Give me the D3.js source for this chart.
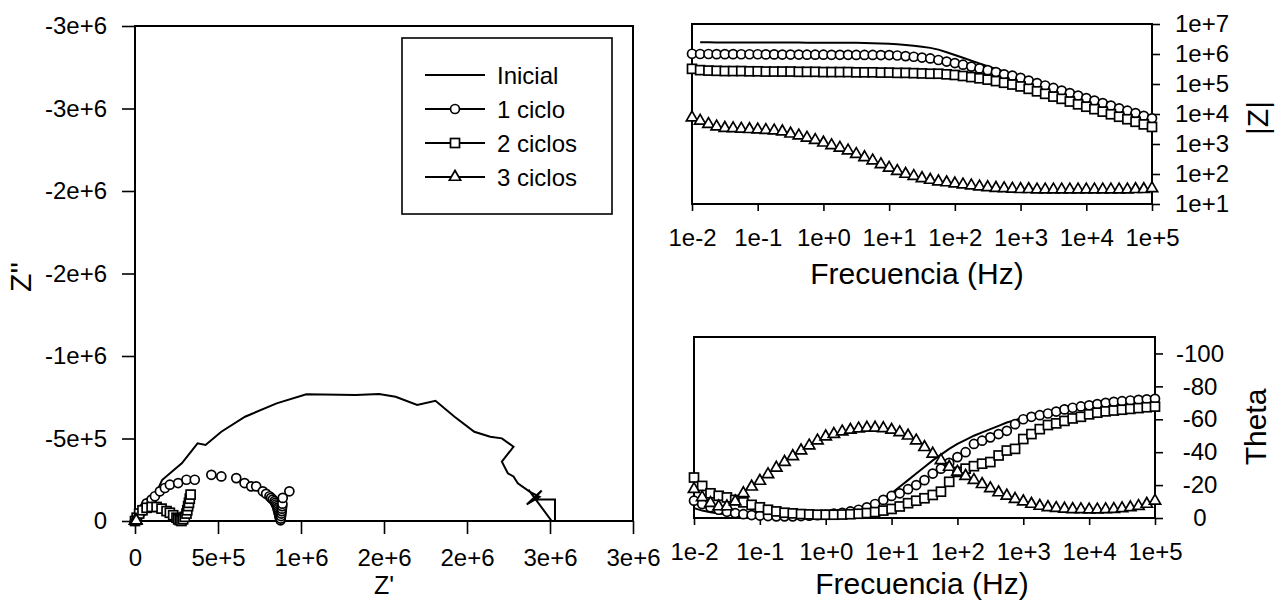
<!DOCTYPE html>
<html lang="es">
<head>
<meta charset="UTF-8">
<title>Impedancia - ciclos</title>
<script src="https://cdn.jsdelivr.net/npm/d3@7/dist/d3.min.js"></script>
<style>
  body { margin: 0; background: #fff; }
  svg { display: block; font-family: "Liberation Sans", Arial, sans-serif; }
  .frame { fill: none; stroke: #000; stroke-width: 2px; }
  .tick line { stroke: #000; stroke-width: 1.6px; }
  .tick text { font-size: 24px; fill: #000; font-family: "Liberation Sans", Arial, sans-serif; }
  .domain { display: none; }
  .mk { fill: #fff; stroke: #000; stroke-width: 1.7px; }
  .ln { fill: none; stroke: #000; stroke-width: 2px; }
  .title { font-size: 30px; fill: #000; }
  .leg text { font-size: 24px; fill: #000; }
</style>
</head>
<body>
<svg width="1278" height="603"></svg>
<script>
// series names (legend)
const seriesNames = ["Inicial", "1 ciclo", "2 ciclos", "3 ciclos"];

// Nyquist: Z' and Z'' (ohm)
const nyqInicialRe = [0, 0.044e6, 0.127e6, 0.163e6, 0.234e6, 0.282e6, 0.377e6, 0.425e6, 0.52e6, 0.663e6, 0.853e6, 1.032e6, 1.33e6, 1.47e6, 1.57e6, 1.70e6, 1.81e6, 1.925e6, 2.044e6, 2.14e6, 2.21e6, 2.28e6, 2.21e6, 2.246e6, 2.28e6, 2.306e6, 2.377e6, 2.437e6, 2.36e6, 2.45e6, 2.40e6, 2.53e6, 2.53e6, 2.51e6, 2.37e6];
const nyqInicialIm = [0, -0.107e6, -0.168e6, -0.248e6, -0.309e6, -0.35e6, -0.471e6, -0.461e6, -0.541e6, -0.632e6, -0.713e6, -0.768e6, -0.764e6, -0.77e6, -0.753e6, -0.703e6, -0.729e6, -0.632e6, -0.541e6, -0.511e6, -0.501e6, -0.45e6, -0.36e6, -0.289e6, -0.27e6, -0.228e6, -0.178e6, -0.147e6, -0.10e6, -0.185e6, -0.13e6, -0.13e6, 0, 0, -0.19e6];

const nyq1Re = [0, 0.01e6, 0.02e6, 0.03e6, 0.04e6, 0.055e6, 0.07e6, 0.10e6, 0.12e6, 0.15e6, 0.18e6, 0.21e6, 0.26e6, 0.31e6, 0.36e6, 0.46e6, 0.52e6, 0.61e6, 0.66e6, 0.70e6, 0.73e6, 0.77e6, 0.79e6, 0.81e6, 0.82e6, 0.83e6, 0.84e6, 0.845e6, 0.85e6, 0.855e6, 0.858e6, 0.86e6, 0.863e6, 0.865e6, 0.868e6, 0.87e6, 0.872e6, 0.875e6, 0.877e6, 0.878e6, 0.88e6, 0.882e6, 0.884e6, 0.885e6, 0.887e6, 0.888e6, 0.89e6, 0.93e6];
const nyq1Im = [0, -0.015e6, -0.03e6, -0.045e6, -0.056e6, -0.08e6, -0.107e6, -0.13e6, -0.15e6, -0.18e6, -0.20e6, -0.22e6, -0.23e6, -0.25e6, -0.25e6, -0.28e6, -0.27e6, -0.26e6, -0.23e6, -0.21e6, -0.21e6, -0.18e6, -0.165e6, -0.15e6, -0.14e6, -0.13e6, -0.12e6, -0.11e6, -0.10e6, -0.09e6, -0.08e6, -0.07e6, -0.06e6, -0.05e6, -0.04e6, -0.03e6, -0.02e6, -0.01e6, -0.004e6, -0.015e6, -0.03e6, -0.045e6, -0.06e6, -0.075e6, -0.09e6, -0.105e6, -0.14e6, -0.18e6];

const nyq2Re = [0, 0.01e6, 0.025e6, 0.045e6, 0.07e6, 0.10e6, 0.13e6, 0.16e6, 0.19e6, 0.21e6, 0.23e6, 0.25e6, 0.26e6, 0.27e6, 0.28e6, 0.29e6, 0.30e6, 0.31e6, 0.315e6, 0.32e6, 0.325e6, 0.33e6, 0.335e6];
const nyq2Im = [0, -0.02e6, -0.045e6, -0.065e6, -0.08e6, -0.085e6, -0.085e6, -0.075e6, -0.06e6, -0.05e6, -0.035e6, -0.02e6, -0.01e6, -0.005e6, 0, -0.01e6, -0.025e6, -0.045e6, -0.065e6, -0.09e6, -0.11e6, -0.135e6, -0.16e6];

const nyq3Re = [0, 0.003e6, 0.005e6, 0.007e6, 0.0076e6];
const nyq3Im = [0, -0.002e6, -0.003e6, -0.004e6, -0.002e6];

// Bode: frequency (Hz)
const freq = [0.01, 0.0133, 0.0178, 0.0237, 0.0316, 0.0422, 0.0562, 0.075,
  0.1, 0.133, 0.178, 0.237, 0.316, 0.422, 0.562, 0.75,
  1, 1.33, 1.78, 2.37, 3.16, 4.22, 5.62, 7.5,
  10, 13.3, 17.8, 23.7, 31.6, 42.2, 56.2, 75,
  100, 133, 178, 237, 316, 422, 562, 750,
  1000, 1330, 1780, 2370, 3160, 4220, 5620, 7500,
  10000, 13300, 17800, 23700, 31600, 42200, 56200, 75000, 100000];

// |Z| (ohm)
const zInicial = [null, 2.45e6, 2.45e6, 2.44e6, 2.44e6, 2.43e6, 2.43e6, 2.42e6, 2.42e6, 2.41e6, 2.41e6, 2.40e6, 2.40e6, 2.40e6, 2.39e6, 2.39e6, 2.38e6, 2.38e6, 2.37e6, 2.36e6, 2.35e6,
  2.33e6, 2.30e6, 2.26e6, 2.20e6, 2.10e6, 2.00e6, 1.90e6, 1.75e6, 1.60e6, 1.40e6, 1.15e6, 9.3e5, 7.5e5, 6.0e5, 4.8e5, 3.9e5, 3.2e5, 2.6e5, 2.1e5, 1.7e5,
  1.4e5, 1.15e5, 9.4e4, 7.7e4, 6.3e4, 5.2e4, 4.3e4, 3.5e4, 2.9e4, 2.4e4, 1.95e4, 1.6e4, 1.3e4, 1.08e4, 8.9e3, 7.3e3];
const z1 = [1.02e6, 1.0e6, 1.0e6, 0.99e6, 0.99e6, 0.99e6, 0.98e6, 0.98e6, 0.98e6,
  9.7e5, 9.7e5, 9.6e5, 9.6e5, 9.6e5, 9.5e5, 9.5e5, 9.5e5, 9.4e5, 9.4e5, 9.4e5, 9.3e5, 9.3e5, 9.3e5, 9.2e5, 9.2e5,
  8.9e5, 8.5e5, 8.1e5, 7.6e5, 7.1e5, 6.3e5, 5.6e5, 5.0e5, 4.4e5, 3.8e5, 3.3e5, 2.9e5, 2.5e5, 2.1e5, 1.9e5, 1.6e5,
  1.3e5, 1.07e5, 8.9e4, 7.4e4, 6.0e4, 5.0e4, 4.1e4, 3.4e4, 2.8e4, 2.3e4, 1.9e4, 1.55e4, 1.29e4, 1.07e4, 8.7e3, 7.2e3];
const z2 = [3.2e5, 2.9e5, 2.8e5,
  2.75e5, 2.7e5, 2.7e5, 2.7e5, 2.65e5, 2.65e5, 2.6e5, 2.6e5, 2.6e5, 2.6e5, 2.55e5, 2.55e5, 2.55e5, 2.5e5, 2.5e5, 2.5e5, 2.5e5, 2.45e5, 2.45e5, 2.45e5, 2.4e5, 2.4e5,
  2.35e5, 2.35e5, 2.3e5, 2.25e5, 2.2e5, 2.2e5, 2.1e5, 2.0e5, 1.85e5, 1.7e5, 1.55e5, 1.4e5, 1.25e5, 1.1e5, 9.6e4, 8.3e4,
  6.9e4, 5.7e4, 4.7e4, 3.8e4, 3.2e4, 2.6e4, 2.1e4, 1.75e4, 1.45e4, 1.2e4, 9.8e3, 8.1e3, 6.7e3, 5.5e3, 4.5e3, 3.7e3];
const z3 = [7.6e3, 5.9e3, 4.6e3, 3.8e3, 3.4e3, 3.3e3, 3.2e3, 3.1e3, 3.0e3, 2.9e3, 2.8e3, 2.6e3,
  2.2e3, 1.9e3, 1.6e3, 1.35e3, 1.1e3, 900, 740, 600, 460, 360, 280, 210, 160,
  125, 100, 85, 72, 63, 56, 52, 48, 44, 41, 38, 36, 34, 33, 32, 31,
  31, 30, 30, 30, 30, 30, 30, 30, 30, 30, 30, 30, 30, 31, 31, 33];

// Theta (deg)
const thInicial = [-6, -4.5, -3.5, -2.8, -2.3, -2.0, -1.8, -1.6, -1.5, -1.5,
  -1.5, -1.5, -1.5, -1.6, -1.7, -1.9, -2.2, -2.6, -3.1, -3.8,
  -4.6, -5.8, -8, -11, -15, -19, -23, -27, -31, -35,
  -38.5, -42, -45, -47.5, -50, -52, -54, -56, -58, -59.5,
  -61, -62.5, -63.7, -64.8, -65.8, -66.8, -67.7, -68.5, -69.3, -70,
  -70.7, -71.3, -71.8, -72.2, -72.6, -73, -73.3];
const th1 = [-10.5, -8.5, -6.5, -5, -3.8, -3, -2.3, -1.8, -1.5, -1.2,
  -1.0, -1.0, -1.0, -1.2, -1.4, -1.7, -2.1, -2.6, -3.2, -4.0,
  -5, -6.5, -8.5, -11, -13.4, -15, -17.5, -20, -23, -27,
  -30, -33.5, -37, -40, -45, -47, -49, -51, -53, -57,
  -60, -61.5, -62.5, -63.5, -64.7, -66, -67, -67.8, -68.5, -69.2,
  -70, -70.6, -71, -71.4, -71.8, -72.1, -72.4];
const th2 = [-24.6, -19.5, -15, -13.5, -12.5, -11, -9.5, -8, -6.5, -5,
  -4, -3.2, -2.8, -2.4, -2.2, -2.0, -2.0, -2.0, -2.1, -2.3,
  -2.6, -3.0, -3.6, -4.5, -5.5, -7, -9, -10.5, -12, -14,
  -16, -22, -28, -30, -31.5, -33, -34, -38, -41, -42,
  -48, -51, -54, -56.5, -57.5, -59, -60.5, -61.5, -63, -64,
  -64.8, -65.3, -65.8, -66.3, -66.8, -67.3, -67.7];
const th3 = [-17.5, -12.5, -9, -7, -7, -10, -15, -19, -22.5, -26.5,
  -30.5, -34, -37.5, -41, -44, -47, -49.5, -51, -52.5, -53.5,
  -54.3, -54.8, -54.8, -54.5, -53.5, -52, -50, -47, -43, -39,
  -35, -31, -28, -25.5, -23, -20.5, -18, -15.5, -13.5, -11.5,
  -10, -8.5, -7.3, -6.5, -6, -5.6, -5.3, -5.2, -5.1, -5.1,
  -5.2, -5.4, -5.8, -6.4, -7.2, -8.5, -10.4];

// ticks
const nyqTicks = [0, 5e5, 1e6, 1.5e6, 2e6, 2.5e6, 3e6];
const nyqYTicks = [0, -5e5, -1e6, -1.5e6, -2e6, -2.5e6, -3e6];
const freqTicks = [1e-2, 1e-1, 1, 10, 100, 1e3, 1e4, 1e5];
const zTicks = [10, 100, 1e3, 1e4, 1e5, 1e6, 1e7];
const thTicks = [0, -20, -40, -60, -80, -100];

const fmtE = v => v === 0 ? "0" : v.toExponential(0);

const svg = d3.select("svg");

function marker(g, type, x, y) {
  if (type === "circle") {
    g.append("circle").attr("class", "mk").attr("cx", x).attr("cy", y).attr("r", 4.5);
  } else if (type === "square") {
    g.append("rect").attr("class", "mk").attr("x", x - 4.5).attr("y", y - 4.5).attr("width", 9).attr("height", 9);
  } else if (type === "triangle") {
    g.append("path").attr("class", "mk")
      .attr("d", d3.symbol(d3.symbolTriangle, 55)())
      .attr("transform", `translate(${x},${y})`);
  }
}
const types = [null, "circle", "square", "triangle"];

function styleAxis(g) {
  g.attr("font-size", null).attr("font-family", null);
  g.selectAll(".tick text").attr("fill", "#000");
}

// ---------- Nyquist ----------
const nx = d3.scaleLinear().domain([0, 3e6]).range([135, 633]);
const ny = d3.scaleLinear().domain([0, -3e6]).range([521, 26]);

svg.append("g").attr("transform", "translate(0,521)")
  .call(d3.axisBottom(nx).tickValues(nyqTicks).tickFormat(fmtE).tickSize(13).tickPadding(15))
  .call(styleAxis);
svg.append("g").attr("transform", "translate(135,0)")
  .call(d3.axisLeft(ny).tickValues(nyqYTicks).tickFormat(fmtE).tickSize(13).tickPadding(15))
  .call(styleAxis);
svg.append("rect").attr("class", "frame")
  .attr("x", nx(0)).attr("y", ny(-3e6))
  .attr("width", nx(3e6) - nx(0)).attr("height", ny(0) - ny(-3e6));

const nyqRe = [nyqInicialRe, nyq1Re, nyq2Re, nyq3Re];
const nyqIm = [nyqInicialIm, nyq1Im, nyq2Im, nyq3Im];
const gN = svg.append("g");
gN.append("path").attr("class", "ln")
  .attr("d", d3.line().x((d, i) => nx(d)).y((d, i) => ny(nyqInicialIm[i]))(nyqInicialRe));
for (let s = 1; s < 4; s++) {
  nyqRe[s].forEach((re, i) => marker(gN, types[s], nx(re), ny(nyqIm[s][i])));
}

svg.append("text").attr("class", "title").attr("text-anchor", "middle")
  .style("font-size", "25px")
  .attr("x", 384).attr("y", 594).text("Z'");
svg.append("text").attr("class", "title").attr("text-anchor", "middle")
  .attr("transform", "translate(31,277) rotate(-90)").text("Z''");

// legend
const leg = svg.append("g").attr("class", "leg");
leg.append("rect").attr("x", 402).attr("y", 38).attr("width", 210).attr("height", 176)
  .attr("fill", "#fff").attr("stroke", "#000").attr("stroke-width", 1.6);
seriesNames.forEach((name, i) => {
  const y = 75 + i * 34;
  leg.append("line").attr("x1", 425).attr("x2", 485).attr("y1", y).attr("y2", y)
    .attr("stroke", "#000").attr("stroke-width", 2);
  if (types[i]) marker(leg, types[i], 455, y);
  leg.append("text").attr("x", 497).attr("y", y + 9).text(name);
});

// ---------- |Z| ----------
const bx = d3.scaleLog().domain([1e-2, 1e5]).range([692, 1152]);
const by = d3.scaleLog().domain([10, 1e7]).range([204, 24]);

svg.append("g").attr("transform", "translate(0,204)")
  .call(d3.axisBottom(bx).tickValues(freqTicks).tickFormat(fmtE).tickSize(7).tickPadding(18))
  .call(styleAxis);
svg.append("g").attr("transform", "translate(1152,0)")
  .call(d3.axisRight(by).tickValues(zTicks).tickFormat(fmtE).tickSize(8).tickPadding(15))
  .call(styleAxis);
svg.append("rect").attr("class", "frame")
  .attr("x", bx(1e-2)).attr("y", by(1e7))
  .attr("width", bx(1e5) - bx(1e-2)).attr("height", by(10) - by(1e7));

const zSeries = [zInicial, z1, z2, z3];
const gZ = svg.append("g");
gZ.append("path").attr("class", "ln")
  .attr("d", d3.line().defined(d => d != null).x((d, i) => bx(freq[i])).y(d => by(d))(zInicial));
for (let s = 1; s < 4; s++) {
  zSeries[s].forEach((v, i) => marker(gZ, types[s], bx(freq[i]), by(v)));
}
svg.append("text").attr("class", "title").attr("text-anchor", "middle")
  .attr("x", 917).attr("y", 284).text("Frecuencia (Hz)");
svg.append("text").attr("class", "title").attr("text-anchor", "middle")
  .attr("transform", "translate(1268,118) rotate(-90)").text("|Z|");

// ---------- Theta ----------
const tx = d3.scaleLog().domain([1e-2, 1e5]).range([694, 1155]);
const ty = d3.scaleLinear().domain([0, -110]).range([518, 337]);

svg.append("g").attr("transform", "translate(0,518)")
  .call(d3.axisBottom(tx).tickValues(freqTicks).tickFormat(fmtE).tickSize(7).tickPadding(18))
  .call(styleAxis);
const gTy = svg.append("g").attr("transform", "translate(1155,0)")
  .call(d3.axisRight(ty).tickValues(thTicks).tickFormat(d => String(d)).tickSize(8).tickPadding(15))
  .call(styleAxis);
gTy.selectAll(".tick text").attr("text-anchor", "middle").attr("x", 45);
svg.append("rect").attr("class", "frame")
  .attr("x", tx(1e-2)).attr("y", ty(-110))
  .attr("width", tx(1e5) - tx(1e-2)).attr("height", ty(0) - ty(-110));

const thSeries = [thInicial, th1, th2, th3];
const gT = svg.append("g");
gT.append("path").attr("class", "ln")
  .attr("d", d3.line().x((d, i) => tx(freq[i])).y(d => ty(d))(thInicial));
for (let s = 1; s < 4; s++) {
  thSeries[s].forEach((v, i) => marker(gT, types[s], tx(freq[i]), ty(v)));
}
svg.append("text").attr("class", "title").attr("text-anchor", "middle")
  .attr("x", 922).attr("y", 594).text("Frecuencia (Hz)");
svg.append("text").attr("class", "title").attr("text-anchor", "middle")
  .attr("transform", "translate(1266,427) rotate(-90)").text("Theta");
</script>
</body>
</html>
